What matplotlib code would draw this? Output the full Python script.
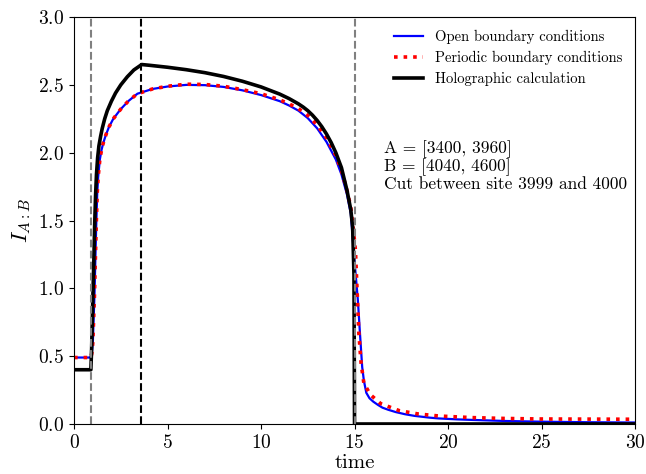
import matplotlib
matplotlib.use("Agg")
import matplotlib.pyplot as plt

plt.rcParams["font.family"] = "serif"
plt.rcParams["font.serif"] = ["cmr10"]
plt.rcParams["mathtext.fontset"] = "cm"
plt.rcParams["axes.formatter.use_mathtext"] = True

# ── data ────────────────────────────────────────────────────────────────────
t_holo = [0, 0.9, 0.94, 0.97, 1.01, 1.06, 1.1, 1.15, 1.2, 1.26, 1.33, 1.42,
          1.51, 1.64, 1.78, 2.0, 2.22, 2.5, 2.85, 3.2, 3.62, 4, 5, 6, 7, 8,
          9, 10, 11, 11.5, 12, 12.25, 12.5, 12.75, 13, 13.25, 13.5, 13.75,
          14, 14.3, 14.6, 14.8, 14.9, 14.97, 15.0, 30]
I_holo = [0.40, 0.40, 0.55, 0.72, 0.95, 1.21, 1.45, 1.68, 1.84, 1.96, 2.05,
          2.12, 2.18, 2.25, 2.31, 2.38, 2.44, 2.50, 2.56, 2.61, 2.65, 2.645,
          2.63, 2.612, 2.59, 2.562, 2.527, 2.485, 2.432, 2.399, 2.36, 2.337,
          2.31, 2.277, 2.238, 2.192, 2.138, 2.075, 2.00, 1.89, 1.72, 1.58,
          1.45, 1.1, 0.0, 0.0]

t_open = [0, 0.9, 0.95, 1.005, 1.05, 1.095, 1.14, 1.185, 1.24, 1.29, 1.38,
          1.47, 1.56, 1.7, 1.87, 2.1, 2.49, 2.9, 3.39, 4.2, 5, 6, 7, 8, 9, 10,
          11, 11.5, 12, 12.5, 13, 13.5, 14, 14.3, 14.6, 14.8, 15.0, 15.18,
          15.29, 15.41, 15.5, 15.63, 15.8, 16.0, 16.26, 16.5, 16.8, 17.2, 17.7,
          18.2, 19.0, 19.5, 20.5, 21.3, 23.1, 25.0, 27.5, 30]
I_open = [0.49, 0.49, 0.52, 0.60, 0.78, 0.96, 1.21, 1.455, 1.70, 1.82, 1.95,
          2.02, 2.07, 2.13, 2.19, 2.25, 2.32, 2.38, 2.435, 2.47, 2.488, 2.50,
          2.498, 2.485, 2.46, 2.425, 2.38, 2.348, 2.31, 2.255, 2.18, 2.08,
          1.95, 1.84, 1.69, 1.55, 1.20, 0.91, 0.67, 0.42, 0.32, 0.23, 0.19,
          0.165, 0.14, 0.12, 0.105, 0.088, 0.072, 0.06, 0.047, 0.041, 0.034,
          0.030, 0.022, 0.017, 0.013, 0.011]

t_per = [0, 0.9, 0.95, 1.005, 1.05, 1.095, 1.14, 1.185, 1.24, 1.29, 1.38,
         1.47, 1.56, 1.7, 1.87, 2.1, 2.49, 2.9, 3.39, 4.2, 5, 6, 7, 8, 9, 10,
         11, 11.5, 12, 12.5, 13, 13.5, 14, 14.3, 14.6, 14.8, 15.0, 15.05,
         15.23, 15.35, 15.5, 15.75, 15.9, 16.4, 17.4, 18.4, 19.5, 21.3, 23.0,
         24.9, 27.5, 30]
I_per = [0.49, 0.49, 0.52, 0.60, 0.78, 0.96, 1.21, 1.455, 1.70, 1.82, 1.95,
         2.02, 2.07, 2.13, 2.19, 2.25, 2.32, 2.38, 2.435, 2.47, 2.49, 2.505,
         2.503, 2.49, 2.465, 2.435, 2.39, 2.36, 2.325, 2.275, 2.205, 2.11,
         1.98, 1.87, 1.72, 1.60, 1.35, 1.28, 0.67, 0.45, 0.30, 0.24, 0.21,
         0.15, 0.098, 0.074, 0.059, 0.047, 0.041, 0.037, 0.036, 0.035]

t_quench = [0.9, 15.0]   # gray markers
t_peak = 3.6             # black marker

info = "A = [3400, 3960]\nB = [4040, 4600]\nCut between site 3999 and 4000"

# ── figure ──────────────────────────────────────────────────────────────────
fig = plt.figure(figsize=(6.46, 4.74), dpi=100)
ax = fig.add_axes([0.1146, 0.1055, 0.8684, 0.8585])

ax.plot(t_open, I_open, color="blue", lw=1.6, label="Open boundary conditions")
ax.plot(t_per, I_per, color="red", lw=2.6, ls=":", label="Periodic boundary conditions")
ax.plot(t_holo, I_holo, color="black", lw=2.6, label="Holographic calculation")

for tq in t_quench:
    ax.axvline(tq, color="gray", ls="--", lw=1.5)
ax.axvline(t_peak, color="black", ls="--", lw=1.5)

ax.set_xlim(0, 30)
ax.set_ylim(0, 3.0)
ax.tick_params(labelsize=14)
ax.set_xlabel("time", fontsize=15, labelpad=2)
ax.set_ylabel(r"$I_{A:B}$", fontsize=16)

ax.legend(loc="upper right", frameon=False, fontsize=10.5, handlelength=2.0,
          labelspacing=0.45)
ax.text(16.6, 2.09, info, fontsize=12.5, va="top", ha="left", linespacing=1.02)

fig.savefig("out.png", dpi=100)
